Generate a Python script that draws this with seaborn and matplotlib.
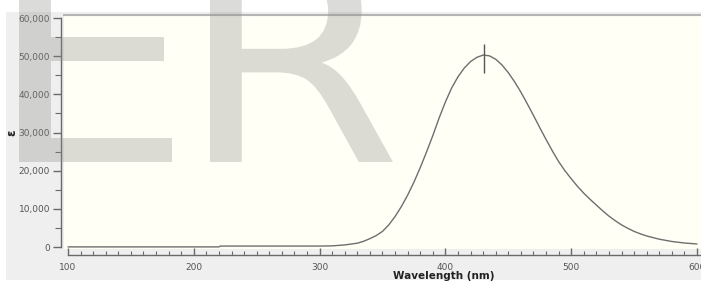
import numpy as np
import pandas as pd
import matplotlib.pyplot as plt
from matplotlib.patches import Rectangle, PathPatch
from matplotlib.textpath import TextPath
from matplotlib.font_manager import FontProperties
from matplotlib.transforms import Affine2D
from matplotlib.ticker import MultipleLocator, FuncFormatter
import seaborn as sns

# ================= DATA =================
wavelength = [100, 220, 221, 300, 310, 320, 330, 335, 340, 345, 350, 355,
              360, 365, 370, 375, 380, 385, 390, 395, 400, 405, 410, 415,
              420, 425, 430, 435, 440, 445, 450, 455, 460, 465, 470, 475,
              480, 485, 490, 495, 500, 505, 510, 515, 520, 525, 530, 535,
              540, 545, 550, 555, 560, 570, 580, 590, 600]
epsilon = [30, 30, 250, 250, 300, 550, 1000, 1500, 2200, 3000, 4100, 5800,
           8000, 10600, 13600, 17000, 20800, 24900, 29200, 33800, 38000,
           41700, 44600, 46900, 48600, 49700, 50300, 50100, 49200, 47700,
           45700, 43300, 40600, 37600, 34500, 31300, 28200, 25200, 22400,
           20000, 17900, 15900, 14100, 12500, 11000, 9500, 8100, 6900,
           5800, 4900, 4100, 3450, 2900, 2050, 1450, 1050, 800]

peak_wl = [431]
peak_lo = [45700]
peak_hi = [53200]

x_label = "Wavelength (nm)"
y_label = "ε"
watermark = ["E", "R"]

# ================= STYLE =================
sns.set_style("ticks")
plt.rcParams["font.family"] = ["DejaVu Sans"]

W, H = 701, 282
fig = plt.figure(figsize=(W / 100, H / 100), dpi=100, facecolor="white")

# grey panel behind the plot
fig.patches.append(Rectangle((6 / W, 2 / H), (W - 6) / W, 268 / H,
                             transform=fig.transFigure, facecolor="#efefef",
                             edgecolor="none", zorder=-2))

ax = fig.add_axes([64 / W, (H - 249) / H, (W - 64) / W, 234 / H])
ax.set_facecolor("#fffff6")

df = pd.DataFrame({"wl": wavelength, "eps": epsilon})
sns.lineplot(data=df, x="wl", y="eps", ax=ax, color="#6e6e6e", linewidth=1.0)
ax.vlines(peak_wl, peak_lo, peak_hi, color="#555555", linewidth=1.0)

ax.set_xlim(96.8, 603.2)
ax.set_ylim(-520, 60800)

# ---- spines ----
ax.spines["right"].set_visible(False)
ax.spines["top"].set_color("#b5b5b5")
ax.spines["top"].set_linewidth(1.5)
ax.spines["left"].set_position(("outward", 2))
ax.spines["left"].set_bounds(0, 60000)
ax.spines["left"].set_color("#6a6a6a")
ax.spines["left"].set_linewidth(1.0)
ax.spines["bottom"].set_position(("outward", 4))
ax.spines["bottom"].set_bounds(100, 610)
ax.spines["bottom"].set_color("#6a6a6a")
ax.spines["bottom"].set_linewidth(1.0)

# ---- ticks ----
ax.xaxis.set_major_locator(MultipleLocator(100))
ax.xaxis.set_minor_locator(MultipleLocator(10))
ax.yaxis.set_major_locator(MultipleLocator(10000))
ax.yaxis.set_minor_locator(MultipleLocator(5000))
ax.yaxis.set_major_formatter(FuncFormatter(lambda v, p: f"{int(v):,}"))

ax.tick_params(axis="x", which="major", direction="in", length=5, width=1,
               color="#6a6a6a", labelsize=6.5, labelcolor="#555555", pad=6)
ax.tick_params(axis="x", which="minor", direction="in", length=3, width=0.8,
               color="#6a6a6a")
ax.tick_params(axis="y", which="major", direction="out", length=6, width=1,
               color="#6a6a6a", labelsize=6.5, labelcolor="#555555", pad=2)
ax.tick_params(axis="y", which="minor", direction="out", length=4, width=0.8,
               color="#6a6a6a")

# ---- labels ----
ax.set_xlabel(x_label, fontsize=7.5, fontweight="bold", color="#222222")
ax.xaxis.set_label_coords((444 - 64) / 637, (249 - 271) / 234)
ax.xaxis.label.set_va("top")
ax.set_ylabel(y_label, fontsize=8.5, fontweight="bold", color="#222222")
ax.yaxis.set_label_coords((12 - 64) / 637, (249 - 133) / 234)
ax.yaxis.label.set_va("center")

# ---- watermark: big letters, top cut off by the figure edge ----
# horizontal pixel span of each glyph, baseline and cap height in pixels
glyph_spans = [(19, 172), (210, 393)]
base_px, cap_px = 162, 212
wm_font = FontProperties(family="DejaVu Sans")
for ch, (x0, x1) in zip(watermark, glyph_spans):
    p = TextPath((0, 0), ch, size=1, prop=wm_font)
    ext = p.get_extents()
    tr = (Affine2D().translate(-ext.x0, 0)
          .scale((x1 - x0) / ext.width, cap_px / ext.y1)
          .translate(x0, H - base_px))
    fig.patches.append(PathPatch(p, transform=tr, facecolor="#8a8a84",
                                 edgecolor="none", alpha=0.3, zorder=5))

fig.savefig("out.png", dpi=100, facecolor="white")
